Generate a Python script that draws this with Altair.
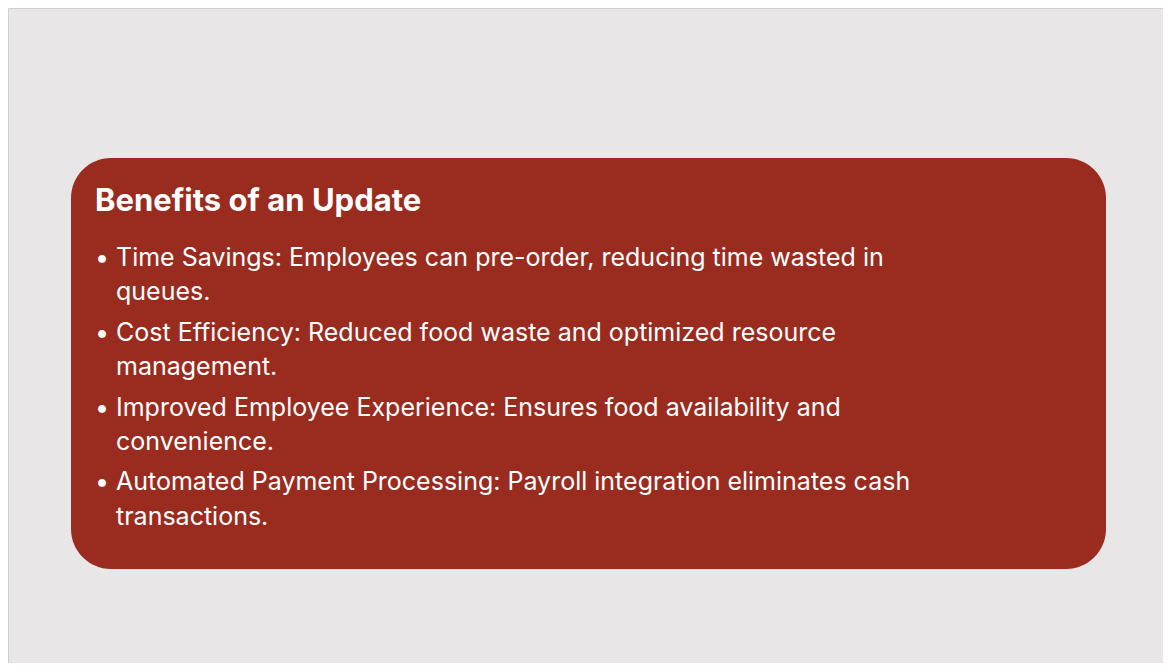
import altair as alt
import pandas as pd

title = "Benefits of an Update"
lines = [
    "Time Savings: Employees can pre-order, reducing time wasted in",
    "queues.",
    "Cost Efficiency: Reduced food waste and optimized resource",
    "management.",
    "Improved Employee Experience: Ensures food availability and",
    "convenience.",
    "Automated Payment Processing: Payroll integration eliminates cash",
    "transactions.",
]
bullet_first = [True, False, True, False, True, False, True, False]

W, H = 1155, 655
# layout (pixel positions in chart coords)
line_y = [250, 284, 325, 359, 400, 434, 474, 509]
df = pd.DataFrame({"t": lines, "y": line_y, "b": ["•" if b else "" for b in bullet_first]})

xs = alt.Scale(domain=[0, W], range=[0, W])
ys = alt.Scale(domain=[0, H], range=[0, H])

box = alt.Chart(pd.DataFrame({"x": [63], "x2": [1098], "y": [150], "y2": [561]})).mark_rect(
    color="#9A2B1F", cornerRadius=40
).encode(
    x=alt.X("x:Q", scale=xs, axis=None), x2="x2", y=alt.Y("y:Q", scale=ys, axis=None), y2="y2"
)

ttl = alt.Chart(pd.DataFrame({"t": [title], "x": [87], "y": [194]})).mark_text(
    color="white", font="Inter", fontSize=31, fontWeight="bold", align="left", baseline="middle"
).encode(x=alt.X("x:Q", scale=xs, axis=None), y=alt.Y("y:Q", scale=ys, axis=None), text="t")

body = alt.Chart(df).mark_text(
    color="white", font="Inter", fontSize=25, align="left", baseline="middle"
).encode(x=alt.value(108), y=alt.Y("y:Q", scale=ys, axis=None), text="t")

bul = alt.Chart(df).mark_text(
    color="white", font="Inter", fontSize=25, align="left", baseline="middle"
).encode(x=alt.value(87), y=alt.Y("y:Q", scale=ys, axis=None), text="b")

chart = (box + ttl + body + bul).properties(
    width=W, height=H, autosize="none", padding=0, background="white"
).configure_view(fill="#E8E6E6", stroke="#CFCFCF", strokeWidth=1)

chart.save("out.html", embed_options={"renderer": "svg", "actions": False})
